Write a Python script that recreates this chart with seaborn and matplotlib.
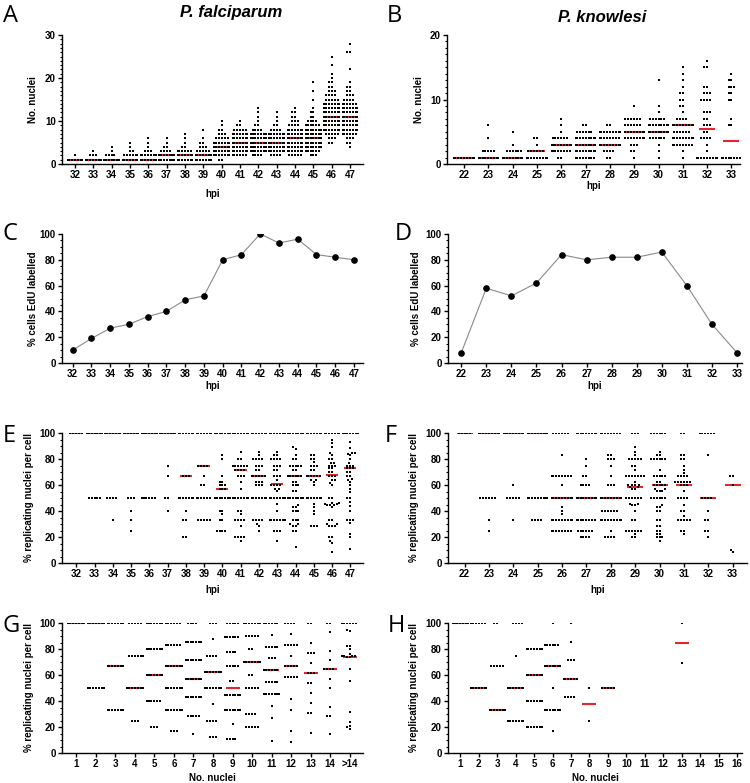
import numpy as np
import pandas as pd
import matplotlib
matplotlib.use("Agg")
import matplotlib.pyplot as plt
import seaborn as sns
from matplotlib.ticker import MultipleLocator

# ---------------- data ----------------
# Panel A: P. falciparum, number of nuclei per cell ({value: number of cells})
A_cats = ['32', '33', '34', '35', '36', '37', '38', '39', '40', '41', '42', '43', '44', '45', '46', '47']
A_counts = [
    {1: 12, 2: 1},
    {1: 12, 2: 3, 3: 1},
    {1: 12, 2: 4, 3: 1, 4: 1},
    {1: 12, 2: 6, 3: 2, 4: 1, 5: 1},
    {1: 12, 2: 8, 3: 3, 4: 1, 5: 1, 6: 1},
    {1: 12, 2: 10, 3: 4, 4: 2, 5: 1, 6: 1},
    {1: 12, 2: 10, 3: 6, 4: 2, 5: 1, 6: 1, 7: 1},
    {1: 12, 2: 10, 3: 5, 4: 3, 5: 2, 6: 1, 8: 1},
    {1: 2, 2: 8, 3: 10, 4: 12, 5: 8, 6: 5, 7: 3, 8: 2, 9: 1, 10: 1},
    {2: 6, 3: 10, 4: 12, 5: 12, 6: 10, 7: 8, 8: 5, 9: 2, 10: 1},
    {2: 4, 3: 8, 4: 12, 5: 12, 6: 10, 7: 8, 8: 4, 9: 2, 10: 1, 11: 1, 12: 1, 13: 1},
    {2: 4, 3: 10, 4: 10, 5: 12, 6: 12, 7: 8, 8: 4, 9: 2, 10: 1, 11: 1, 12: 1},
    {2: 5, 3: 10, 4: 12, 5: 12, 6: 12, 7: 12, 8: 8, 9: 4, 10: 3, 11: 2, 12: 2, 13: 1},
    {2: 3, 3: 6, 4: 10, 5: 12, 6: 12, 7: 10, 8: 8, 9: 6, 10: 4, 11: 2, 12: 2, 13: 1, 15: 1, 17: 1, 19: 1},
    {5: 2, 6: 3, 7: 5, 8: 8, 9: 10, 10: 12, 11: 12, 12: 12, 13: 10, 14: 8, 15: 5, 16: 4, 17: 3, 18: 2,
     19: 2, 20: 1, 21: 1, 23: 1, 25: 1},
    {4: 1, 5: 2, 6: 3, 7: 6, 8: 8, 9: 10, 10: 12, 11: 12, 12: 12, 13: 8, 14: 6, 15: 4, 16: 3, 17: 2,
     18: 2, 19: 1, 22: 1, 26: 2, 28: 1},
]
A_medians = [1, 1, 1, 1, 1, 2, 2, 2, 4, 5, 5, 5, 6, 6, 11, 11]

# Panel B: P. knowlesi, number of nuclei per cell
B_cats = ['22', '23', '24', '25', '26', '27', '28', '29', '30', '31', '32', '33']
B_counts = [
    {1: 12},
    {1: 12, 2: 5, 4: 1, 6: 1},
    {1: 12, 2: 6, 3: 1, 5: 1},
    {1: 10, 2: 6, 3: 1, 4: 2},
    {1: 2, 2: 8, 3: 12, 4: 6, 5: 1, 6: 1, 7: 1},
    {1: 8, 2: 10, 3: 12, 4: 10, 5: 6, 6: 2},
    {1: 2, 2: 4, 3: 12, 4: 8, 5: 10, 6: 2},
    {1: 1, 2: 2, 3: 3, 4: 12, 5: 12, 6: 6, 7: 6, 9: 1},
    {1: 1, 2: 1, 3: 1, 4: 6, 5: 12, 6: 12, 7: 6, 8: 1, 9: 1, 13: 1},
    {1: 1, 2: 1, 3: 8, 4: 12, 5: 6, 6: 12, 7: 4, 8: 1, 9: 2, 10: 2, 11: 2, 12: 1, 13: 1, 14: 1, 15: 1},
    {1: 12, 2: 1, 3: 1, 4: 4, 5: 2, 6: 3, 7: 2, 8: 3, 10: 4, 11: 3, 12: 2, 15: 2, 16: 1},
    {1: 12, 6: 2, 7: 1, 10: 2, 11: 2, 12: 3, 13: 2, 14: 1},
]
B_medians = [1, 1, 1, 2, 3, 3, 3, 5, 5, 6, 5.5, 3.5]

# Panel C / D: % cells EdU labelled
C_hpi = [32, 33, 34, 35, 36, 37, 38, 39, 40, 41, 42, 43, 44, 45, 46, 47]
C_edu = [10, 19, 27, 30, 36, 40, 49, 52, 80, 84, 100, 93, 96, 84, 82, 80]
D_hpi = [22, 23, 24, 25, 26, 27, 28, 29, 30, 31, 32, 33]
D_edu = [8, 58, 52, 62, 84, 80, 82, 82, 86, 60, 30, 8]

# Panel E: P. falciparum, % replicating nuclei per cell by hpi
E_cats = A_cats
E_counts = [
    {100: 5},
    {100: 12, 50: 5},
    {100: 12, 50: 4, 33.3: 1},
    {100: 12, 50: 3, 40: 1, 33.3: 1, 25: 1},
    {100: 12, 50: 6},
    {100: 12, 75: 1, 66.7: 1, 50: 2, 40: 1},
    {100: 12, 66.7: 3, 50: 8, 40: 1, 33.3: 2, 20: 2},
    {100: 12, 75: 4, 66.7: 1, 60: 2, 50: 6, 33.3: 5},
    {100: 12, 83.3: 1, 80: 1, 66.7: 1, 62.5: 2, 60: 3, 57.1: 3, 50: 12, 40: 2, 37.5: 1, 33.3: 2, 25: 4},
    {100: 12, 85.7: 1, 80: 2, 75: 6, 71.4: 4, 66.7: 3, 62.5: 1, 57.1: 1, 50: 12, 40: 2, 37.5: 1,
     33.3: 4, 28.6: 1, 20: 4, 16.7: 1},
    {100: 12, 85.7: 1, 83.3: 1, 80: 4, 75: 3, 71.4: 2, 66.7: 6, 62.5: 3, 60: 3, 50: 8, 33.3: 4,
     30: 1, 28.6: 1, 25: 1},
    {100: 12, 85.7: 1, 83.3: 2, 80: 4, 75: 3, 71.4: 2, 66.7: 3, 63.6: 1, 60: 4, 57.1: 2, 55.6: 1,
     50: 8, 45.5: 1, 40: 1, 33.3: 10, 25: 3, 16.7: 1},
    {100: 12, 88.9: 1, 87.5: 1, 83.3: 1, 80: 2, 75: 5, 71.4: 2, 66.7: 6, 62.5: 2, 60: 3, 55.6: 2,
     50: 12, 44.4: 1, 42.9: 2, 40: 3, 33.3: 3, 30: 2, 28.6: 2, 25: 2, 12.5: 1},
    {100: 12, 83.3: 2, 80: 2, 77.8: 1, 75: 3, 71.4: 2, 66.7: 6, 63.6: 2, 62.5: 1, 60: 1, 50: 10,
     45.5: 1, 42.9: 1, 40: 1, 37.5: 1, 28.6: 3},
    {100: 12, 94.7: 1, 92.3: 1, 88.9: 1, 84.6: 1, 83.3: 1, 80: 2, 76.9: 2, 75: 3, 72.7: 2, 70: 2,
     66.7: 3, 63.6: 2, 61.5: 1, 60: 1, 50: 2, 46.2: 2, 45.5: 2, 44.4: 3, 42.9: 1, 33.3: 2, 30: 2,
     28.6: 3, 20: 2, 16.7: 1, 15.4: 1, 8.3: 1},
    {100: 12, 92.9: 1, 88.2: 1, 85: 2, 84: 1, 83.3: 1, 80: 1, 76.9: 1, 75: 3, 72.7: 3, 70: 2,
     66.7: 2, 64.3: 1, 63.6: 1, 62.5: 1, 60: 1, 57.1: 1, 55: 1, 50: 2, 46.7: 1, 44: 1, 40: 1,
     33.3: 3, 30.8: 1, 22.2: 1, 20: 1, 11.1: 1},
]
E_medians = [100, 100, 100, 100, 100, 100, 66.7, 75, 57.1, 71.4, 66.7, 61.1, 66.7, 66.7, 68, 73.3]

# Panel F: P. knowlesi, % replicating nuclei per cell by hpi
F_cats = B_cats
F_counts = [
    {100: 5},
    {100: 12, 50: 6, 33.3: 1, 25: 1},
    {100: 12, 60: 1, 50: 5, 33.3: 1},
    {100: 12, 50: 10, 33.3: 4},
    {100: 6, 83.3: 1, 66.7: 8, 60: 1, 50: 12, 42.9: 1, 40: 1, 37.5: 1, 33.3: 12, 25: 8},
    {100: 12, 80: 1, 75: 1, 66.7: 2, 60: 4, 50: 12, 33.3: 8, 25: 6, 20: 4},
    {100: 8, 83.3: 2, 80: 3, 75: 1, 66.7: 1, 60: 3, 50: 12, 40: 6, 33.3: 12, 25: 1, 20: 4},
    {100: 3, 88.9: 1, 85.7: 1, 83.3: 1, 80: 5, 75: 2, 71.4: 1, 66.7: 7, 62.5: 1, 60: 4, 58.3: 2,
     57.1: 2, 50: 6, 45.5: 2, 44.4: 2, 40: 1, 33.3: 2, 25: 6, 22.2: 1, 20: 2},
    {100: 6, 85.7: 1, 83.3: 2, 80: 6, 71.4: 1, 66.7: 5, 62.5: 2, 60: 5, 57.1: 2, 55.6: 3, 50: 6,
     44.4: 1, 42.9: 2, 40: 2, 33.3: 2, 28.6: 2, 25: 2, 22.2: 2, 20: 3, 16.7: 1},
    {100: 2, 83.3: 2, 80: 2, 75: 1, 71.4: 1, 69.2: 1, 66.7: 4, 62.5: 6, 60: 3, 55.6: 1, 50: 4,
     44.4: 1, 40: 2, 36.4: 1, 33.3: 5, 25: 2, 22.2: 1},
    {100: 6, 83.3: 1, 50: 4, 40: 1, 33.3: 2, 25: 2, 20: 1},
    {66.7: 2, 60: 1, 10: 1, 8.3: 1},
]
F_medians = [100, 100, 100, 100, 50, 50, 50, 58.5, 60, 60, 50, 60]

# Panel G: P. falciparum, % replicating nuclei per cell by number of nuclei
G_cats = ['1', '2', '3', '4', '5', '6', '7', '8', '9', '10', '11', '12', '13', '14', '>14']
G_counts = [
    {100: 12},
    {100: 12, 50: 10},
    {100: 12, 66.7: 12, 33.3: 10},
    {100: 5, 75: 6, 50: 12, 25: 3},
    {100: 10, 80: 8, 60: 12, 40: 6, 20: 3},
    {100: 6, 83.3: 6, 66.7: 12, 50: 10, 33.3: 8, 16.7: 3},
    {100: 4, 85.7: 7, 71.4: 10, 57.1: 10, 42.9: 7, 28.6: 5, 14.3: 1},
    {100: 3, 87.5: 1, 75: 4, 62.5: 8, 50: 8, 37.5: 1, 25: 4, 12.5: 3},
    {100: 5, 88.9: 6, 77.8: 4, 66.7: 5, 55.6: 2, 44.4: 10, 33.3: 8, 22.2: 1, 11.1: 4},
    {100: 8, 90: 5, 80: 2, 70: 8, 60: 2, 50: 5, 30: 4, 20: 5},
    {100: 6, 90.9: 1, 81.8: 5, 72.7: 3, 63.6: 6, 54.5: 5, 45.5: 9, 36.4: 1, 27.3: 1, 9.1: 1},
    {100: 4, 91.7: 1, 83.3: 5, 75: 1, 66.7: 5, 58.3: 5, 41.7: 1, 33.3: 1, 16.7: 1, 8.3: 1},
    {100: 2, 84.6: 1, 76.9: 3, 69.2: 1, 61.5: 3, 53.8: 2, 46.2: 1, 38.5: 1, 30.8: 2, 15.4: 1},
    {100: 2, 92.9: 1, 78.6: 1, 71.4: 1, 64.3: 4, 57.1: 1, 50: 1, 35.7: 1, 28.6: 2, 14.3: 1},
    {100: 6, 94.7: 1, 93.8: 1, 82.4: 2, 80: 1, 76.5: 1, 75: 4, 73.7: 2, 64.7: 1, 55.6: 1, 31.3: 1,
     23.5: 1, 21.1: 1, 20: 1, 18.8: 1},
]
G_medians = [100, 100, 66.7, 50, 60, 66.7, 57.1, 62.5, 50, 70, 63.6, 66.7, 61.5, 64.3, 74.2]

# Panel H: P. knowlesi, % replicating nuclei per cell by number of nuclei
H_cats = ['1', '2', '3', '4', '5', '6', '7', '8', '9', '10', '11', '12', '13', '14', '15', '16']
H_data_cats = ['1', '2', '3', '4', '5', '6', '7', '8', '9', '13']
H_counts = [
    {100: 12},
    {100: 6, 50: 12},
    {100: 2, 66.7: 5, 33.3: 12},
    {100: 4, 75: 1, 50: 12, 25: 10},
    {80: 12, 60: 10, 40: 8, 20: 8},
    {100: 1, 83.3: 6, 66.7: 12, 50: 1, 33.3: 10, 16.7: 1},
    {100: 1, 85.7: 1, 71.4: 3, 57.1: 6, 42.9: 4},
    {50: 1, 25: 1},
    {50: 5},
    {100: 1, 69.2: 1},
]
H_medians = [100, 50, 33.3, 50, 60, 66.7, 57.1, 37.5, 50, 84.6]

# ---------------- style ----------------
sns.set_theme(style="ticks", rc={
    "axes.edgecolor": "black", "text.color": "black", "axes.labelcolor": "black",
    "xtick.color": "black", "ytick.color": "black", "axes.linewidth": 1.0,
})
plt.rcParams["font.family"] = ["Liberation Sans", "DejaVu Sans"]
plt.rcParams["font.weight"] = "bold"
plt.rcParams["axes.labelweight"] = "bold"

RED = "#e3262b"
W, H = 750, 783
fig = plt.figure(figsize=(W / 100, H / 100), dpi=100)


def add_ax(x0, x1, y0, y1):
    return fig.add_axes([x0 / W, 1 - y1 / H, (x1 - x0) / W, (y1 - y0) / H])


def expand(cats, counts):
    xs, ys = [], []
    for c, d in zip(cats, counts):
        for v, n in d.items():
            xs += [c] * n
            ys += [v] * n
    return pd.DataFrame({"x": xs, "y": ys})


def style(ax, ymax, major, minor, xlim, xlabel, ylabel, xpad, ypad):
    ax.set_ylim(0, ymax)
    ax.set_xlim(*xlim)
    ax.yaxis.set_major_locator(MultipleLocator(major))
    ax.yaxis.set_minor_locator(MultipleLocator(minor))
    sns.despine(ax=ax)
    ax.tick_params(axis="both", which="major", length=3, width=1.0, labelsize=7, pad=1.5)
    ax.tick_params(axis="y", which="minor", length=1.6, width=0.8)
    ax.tick_params(axis="x", which="minor", length=0)
    ax.set_xlabel(xlabel, fontsize=7, fontweight="bold", labelpad=xpad)
    ax.set_ylabel(ylabel, fontsize=7, fontweight="bold", labelpad=ypad)


def dot_panel(ax, cats, data_cats, counts, med_cats, medians, med_size):
    df = expand(data_cats, counts)
    sns.swarmplot(data=df, x="x", y="y", order=cats, color="black", size=2.0,
                  marker="s", linewidth=0, ax=ax, warn_thresh=1)
    sns.pointplot(x=med_cats, y=medians, order=cats, color=RED, markers="_",
                  linestyles="none", errorbar=None, markersize=med_size,
                  markeredgewidth=1.5, ax=ax)


# A
axA = add_ax(62, 363, 35, 164)
dot_panel(axA, A_cats, A_cats, A_counts, A_cats, A_medians, 9.5)
style(axA, 30, 10, 1, (-0.7, 15.7), "hpi", "No. nuclei", 6.5, 5)

# B
axB = add_ax(447, 740, 35, 164)
dot_panel(axB, B_cats, B_cats, B_counts, B_cats, B_medians, 11.5)
style(axB, 20, 10, 1, (-0.7, 11.35), "hpi", "No. nuclei", 0.5, 4.5)

# C
axC = add_ax(62, 363, 234, 363)
sns.lineplot(x=C_hpi, y=C_edu, ax=axC, color="#8a8a8a", linewidth=0.8, marker="o",
             markersize=4, markerfacecolor="black", markeredgecolor="black")
axC.set_xticks(C_hpi)
style(axC, 100, 20, 5, (32 - 0.57, 47 + 0.48), "hpi", "% cells EdU labelled", 1.5, 1.5)

# D
axD = add_ax(448, 742, 234, 363)
sns.lineplot(x=D_hpi, y=D_edu, ax=axD, color="#8a8a8a", linewidth=0.8, marker="o",
             markersize=4, markerfacecolor="black", markeredgecolor="black")
axD.set_xticks(D_hpi)
style(axD, 100, 20, 5, (22 - 0.53, 33 + 0.2), "hpi", "% cells EdU labelled", 1.5, 3.5)

# E
axE = add_ax(62, 363, 433, 563)
dot_panel(axE, E_cats, E_cats, E_counts, E_cats, E_medians, 9)
style(axE, 100, 20, 5, (-0.78, 15.69), "hpi", "% replicating nuclei per cell", 4, 4)

# F
axF = add_ax(448, 747, 433, 563)
dot_panel(axF, F_cats, F_cats, F_counts, F_cats, F_medians, 11)
style(axF, 100, 20, 5, (-0.68, 11.59), "hpi", "% replicating nuclei per cell", 4, 5)

# G
axG = add_ax(62, 363, 623, 753)
dot_panel(axG, G_cats, G_cats, G_counts, G_cats, G_medians, 9.5)
style(axG, 100, 20, 5, (-0.73, 14.68), "No. nuclei", "% replicating nuclei per cell", 2.5, 4)

# H
axH = add_ax(448, 742, 623, 753)
dot_panel(axH, H_cats, H_data_cats, H_counts, H_data_cats, H_medians, 9.5)
style(axH, 100, 20, 5, (-0.67, 15.27), "No. nuclei", "% replicating nuclei per cell", 2.5, 5)

# panel letters
letters = [("A", 3, 16), ("B", 387, 16), ("C", 3, 234), ("D", 395, 234),
           ("E", 3, 436), ("F", 385, 436), ("G", 3, 626), ("H", 388, 626)]
for t, x, y in letters:
    fig.text(x / W, 1 - y / H, t, fontsize=17, fontweight="normal",
             family=["Open Sans", "DejaVu Sans"], va="center", ha="left")

fig.text(231 / W, 1 - 12 / H, "P. falciparum", fontsize=12, fontweight="bold",
         style="italic", ha="center", va="center")
fig.text(602 / W, 1 - 17 / H, "P. knowlesi", fontsize=12, fontweight="bold",
         style="italic", ha="center", va="center")

fig.savefig("out.png", dpi=100)
